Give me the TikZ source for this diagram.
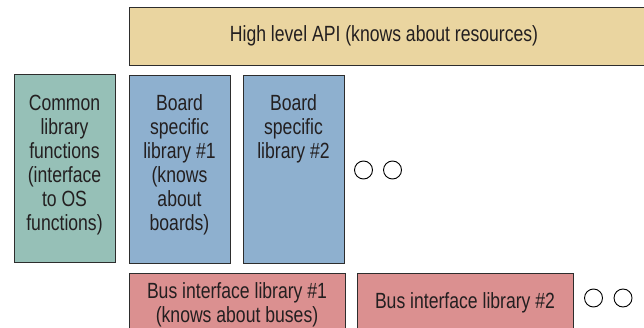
\documentclass[tikz,border=0pt]{standalone}
\usepackage{fontspec}
\setmainfont[FakeStretch=0.8]{Liberation Sans}
\definecolor{apiY}{RGB}{234,213,160}
\definecolor{comT}{RGB}{150,192,183}
\definecolor{brdB}{RGB}{142,176,207}
\definecolor{busR}{RGB}{219,144,144}
\definecolor{edgeC}{RGB}{45,45,45}
\definecolor{txtC}{RGB}{35,31,32}
\begin{document}
\begin{tikzpicture}[x=1pt,y=-1pt,
  blk/.style={draw=edgeC,line width=1.1pt,rectangle,inner sep=0pt,anchor=north west},
  lbl/.style={text=txtC,align=center,inner sep=0pt,anchor=base,font=\fontsize{22}{24}\selectfont},
  dot/.style={draw=black,line width=0.9pt,circle,minimum size=18pt,inner sep=0pt}]
\useasboundingbox (0,0) rectangle (644,328);
\clip (0,0) rectangle (644,328);
% boxes
\node[blk,fill=apiY,minimum width=530pt,minimum height=58pt] (api) at (129,7) {};
\node[blk,fill=comT,minimum width=101pt,minimum height=188pt] (com) at (13.5,74) {};
\node[blk,fill=brdB,minimum width=101pt,minimum height=188pt] (b1) at (129,75) {};
\node[blk,fill=brdB,minimum width=101pt,minimum height=188pt] (b2) at (243,75) {};
\node[blk,fill=busR,minimum width=216pt,minimum height=70pt] (bus1) at (129,273) {};
\node[blk,fill=busR,minimum width=216pt,minimum height=70pt] (bus2) at (357,273) {};
% texts (base anchor = baseline of the last line)
\node[lbl] (tapi) at (384,42) {High level API (knows about resources)};
\node[lbl] (tcom) at (64.5,231) {Common\\library\\functions\\(interface\\to OS\\functions)};
\node[lbl] (tb1) at (179.5,231) {Board\\specific\\library \#1\\(knows\\about\\boards)};
\node[lbl] (tb2) at (293.5,159) {Board\\specific\\library \#2};
\node[lbl] (tbus1) at (237,322) {Bus interface library \#1\\(knows about buses)};
\node[lbl] (tbus2) at (465,308) {Bus interface library \#2};
% ellipsis circles
\node[dot] (c1) at (363.5,170) {};
\node[dot] (c2) at (392.5,170) {};
\node[dot] (c3) at (593.5,298) {};
\node[dot] (c4) at (623,298) {};
\end{tikzpicture}
\end{document}
